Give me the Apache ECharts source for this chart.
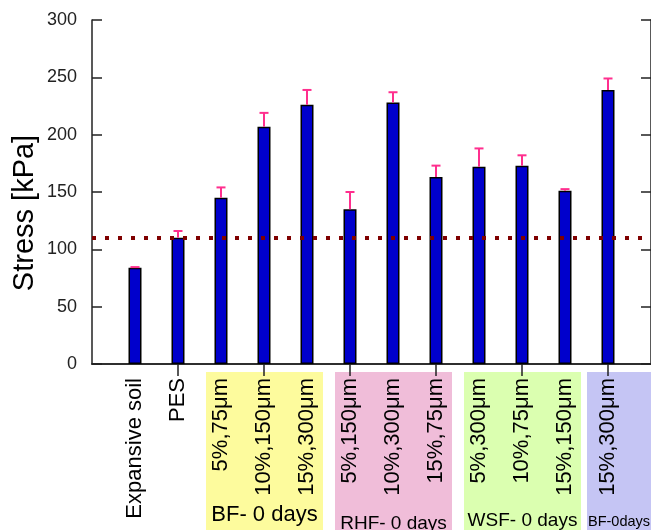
<!DOCTYPE html>
<html>
<head>
<meta charset="utf-8">
<script src="https://cdn.jsdelivr.net/npm/echarts@6/dist/echarts.min.js"></script>
<style>html,body{margin:0;padding:0;background:#fff}#c{width:651px;height:530px}</style>
</head>
<body>
<div id="c"></div>
<script>
// ---- data ----
var categories = ['', 'Expansive soil', 'PES', '5%,75\u03bcm', '10%,150\u03bcm', '15%,300\u03bcm',
  '5%,150\u03bcm', '10%,300\u03bcm', '15%,75\u03bcm', '5%,300\u03bcm', '10%,75\u03bcm', '15%,150\u03bcm', '15%,300\u03bcm', ''];
var stress = [null, 84, 110, 145, 207, 226, 135, 228, 163, 172, 173, 151, 239, null];
var errors = [null, 0.5, 6, 9, 12, 13, 15, 9, 10, 16, 9, 1.5, 10, null];
var referenceLine = 110;
var yTicks = [0, 50, 100, 150, 200, 250, 300];
var groupLabels = ['BF- 0 days', 'RHF- 0 days', 'WSF- 0 days', 'BF-0days'];
var groupStart = [3, 6, 9, 12];
var groupEnd = [5, 8, 11, 12];
var groupColors = ['#fdfb9d', '#f0bdd9', '#dbffb0', '#c5c5f4'];
var groupFontSizes = [22, 19, 19, 14.5];
var groupBaselines = [526, 533, 530, 529];

var FONT = "'Liberation Sans', Arial, sans-serif";
var chart = echarts.init(document.getElementById('c'), null, {renderer: 'canvas'});

var errData = [];
for (var i = 0; i < stress.length; i++) {
  if (stress[i] != null) errData.push([i, stress[i], errors[i]]);
}

var option = {
  animation: false,
  backgroundColor: '#ffffff',
  grid: {left: 92, right: 0, top: 20, bottom: 166, containLabel: false},
  xAxis: [{
    type: 'category', data: categories, boundaryGap: false, position: 'bottom',
    axisLine: {show: true, lineStyle: {color: '#222', width: 1.5}},
    axisTick: {show: true, inside: true, length: 12, lineStyle: {color: '#222', width: 1.5},
      interval: function (idx) { return idx % 2 === 0 && idx > 0 && idx < 13; }},
    axisLabel: {show: true, rotate: 90, interval: 0, margin: 14, fontSize: 22, color: '#000', fontFamily: FONT},
    splitLine: {show: false}
  }, {
    type: 'category', data: categories, boundaryGap: false, position: 'top',
    axisLine: {show: true, lineStyle: {color: '#222', width: 1.5}},
    axisTick: {show: true, inside: true, length: 12, lineStyle: {color: '#222', width: 1.5},
      interval: function (idx) { return idx % 2 === 0 && idx > 0 && idx < 13; }},
    axisLabel: {show: false}, splitLine: {show: false}
  }],
  yAxis: [{
    type: 'value', min: yTicks[0], max: yTicks[yTicks.length - 1], interval: 50, position: 'left',
    axisLine: {show: true, lineStyle: {color: '#222', width: 1.5}},
    axisTick: {show: true, inside: true, length: 10, lineStyle: {color: '#222', width: 1.5}},
    axisLabel: {fontSize: 18, color: '#222', margin: 15, fontFamily: FONT},
    splitLine: {show: false}
  }, {
    type: 'value', min: yTicks[0], max: yTicks[yTicks.length - 1], interval: 50, position: 'right',
    axisLine: {show: true, lineStyle: {color: '#222', width: 1.5}},
    axisTick: {show: true, inside: true, length: 10, lineStyle: {color: '#222', width: 1.5}},
    axisLabel: {show: false}, splitLine: {show: false}
  }],
  series: [{
    type: 'bar', data: stress, barWidth: 13, xAxisIndex: 0, yAxisIndex: 0,
    itemStyle: {color: '#0000cc', borderColor: '#000', borderWidth: 1.5},
    markLine: {
      silent: true, symbol: 'none', label: {show: false},
      lineStyle: {color: '#7f0000', width: 4, type: [4, 9]},
      data: [{yAxis: referenceLine}]
    },
    z: 2
  }, {
    type: 'custom', data: errData, xAxisIndex: 0, yAxisIndex: 0, z: 3,
    renderItem: function (params, api) {
      var x = api.value(0), v = api.value(1), e = api.value(2);
      var p0 = api.coord([x, v]);
      var p1 = api.coord([x, v + e]);
      var st = {stroke: '#ff2f8e', lineWidth: 2};
      return {type: 'group', children: [
        {type: 'line', shape: {x1: p0[0], y1: p0[1], x2: p1[0], y2: p1[1]}, style: st},
        {type: 'line', shape: {x1: p1[0] - 4.5, y1: p1[1], x2: p1[0] + 4.5, y2: p1[1]}, style: st}
      ]};
    }
  }]
};
chart.setOption(option);

var graphics = [{
  type: 'text', x: 25, y: 213, rotation: Math.PI / 2, z: 10,
  style: {text: 'Stress [kPa]', font: '29px ' + FONT, fill: '#000', textAlign: 'center', textVerticalAlign: 'middle'}
}];
for (var g = 0; g < groupLabels.length; g++) {
  var xsIdx = chart.convertToPixel({xAxisIndex: 0}, groupStart[g]);
  var xeIdx = chart.convertToPixel({xAxisIndex: 0}, groupEnd[g]);
  var last = (g === groupLabels.length - 1);
  var left = xsIdx - (last ? 21 : 15);
  var right = last ? 651 : xeIdx + 16;
  graphics.push({
    type: 'rect', z: -10, shape: {x: left, y: 372, width: right - left, height: 158},
    style: {fill: groupColors[g]}
  });
  graphics.push({
    type: 'text', z: 10, x: (left + right) / 2, y: groupBaselines[g],
    style: {text: groupLabels[g], font: groupFontSizes[g] + 'px ' + FONT, fill: '#000', textAlign: 'center', textVerticalAlign: 'bottom'}
  });
}
chart.setOption({graphic: graphics});
</script>
</body>
</html>
